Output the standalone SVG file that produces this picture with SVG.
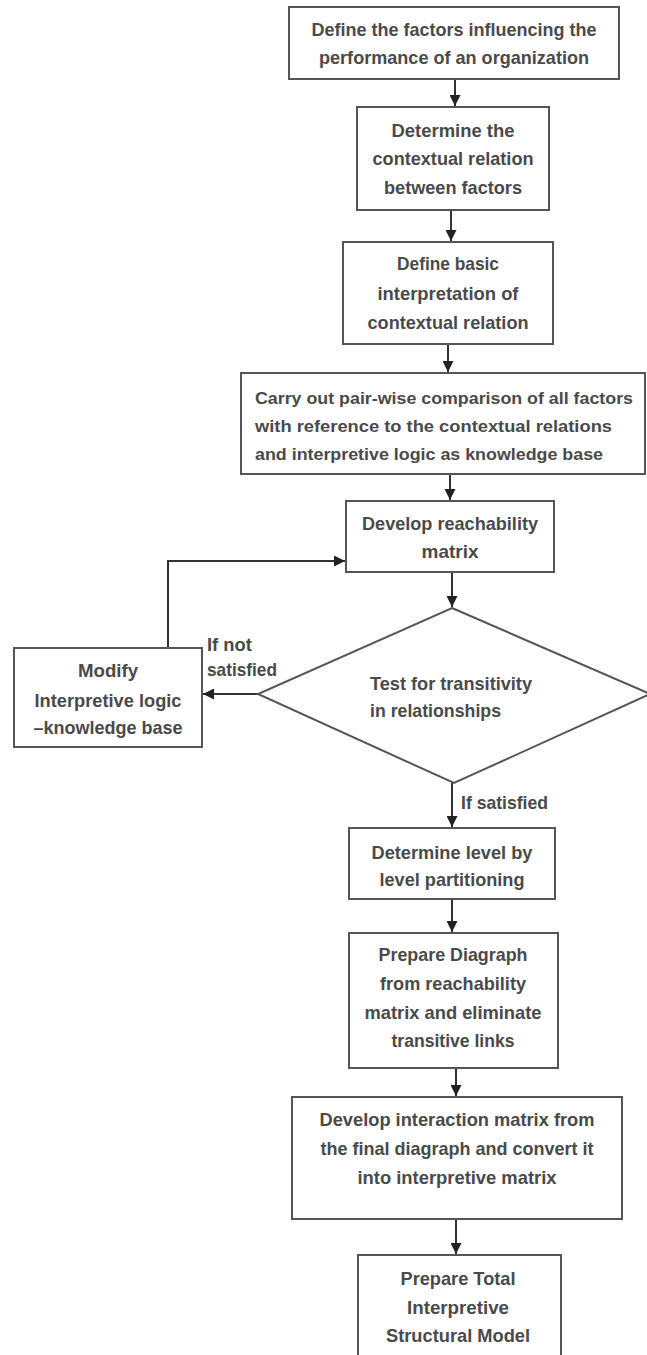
<svg xmlns="http://www.w3.org/2000/svg" width="647" height="1355" viewBox="0 0 647 1355">
<style>
.box{fill:#fff;stroke:#555;stroke-width:2}
.t{font-family:"Liberation Sans",Arial,sans-serif;font-weight:bold;font-size:19px;fill:#4a4a4a;text-anchor:middle}
.s{text-anchor:start}
.w{font-size:17px}
.c{fill:none;stroke:#333;stroke-width:2}
</style>
<defs>
<marker id="ah" viewBox="0 0 10 10" refX="10" refY="5" markerWidth="5.5" markerHeight="5.5" orient="auto" markerUnits="strokeWidth">
<path d="M0,0 L10,5 L0,10 z" fill="#222"/>
</marker>
</defs>
<rect width="647" height="1355" fill="#fff"/>
<g id="connectors">
<line class="c" x1="455" y1="79" x2="455" y2="106" marker-end="url(#ah)"/>
<line class="c" x1="451" y1="210" x2="451" y2="241" marker-end="url(#ah)"/>
<line class="c" x1="448" y1="344" x2="448" y2="372" marker-end="url(#ah)"/>
<line class="c" x1="450" y1="474" x2="450" y2="500" marker-end="url(#ah)"/>
<line class="c" x1="452" y1="572" x2="452" y2="607" marker-end="url(#ah)"/>
<line class="c" x1="258" y1="694" x2="203" y2="694" marker-end="url(#ah)"/>
<polyline class="c" points="168,648 168,561 345,561" marker-end="url(#ah)"/>
<line class="c" x1="452" y1="783" x2="452" y2="827" marker-end="url(#ah)"/>
<line class="c" x1="452" y1="899" x2="452" y2="932" marker-end="url(#ah)"/>
<line class="c" x1="456" y1="1068" x2="456" y2="1096" marker-end="url(#ah)"/>
<line class="c" x1="456" y1="1219" x2="456" y2="1254" marker-end="url(#ah)"/>
<text class="t s" x="207" y="651" textLength="45" lengthAdjust="spacingAndGlyphs">If not</text>
<text class="t s" x="207" y="676" textLength="70" lengthAdjust="spacingAndGlyphs">satisfied</text>
<text class="t s" x="461" y="809" textLength="87" lengthAdjust="spacingAndGlyphs">If satisfied</text>
</g>
<g id="n1">
<rect class="box" x="289" y="7" width="330" height="72"/>
<text class="t" x="454" y="36" textLength="285" lengthAdjust="spacingAndGlyphs">Define the factors influencing the</text>
<text class="t" x="454" y="64" textLength="270" lengthAdjust="spacingAndGlyphs">performance of an organization</text>
</g>
<g id="n2">
<rect class="box" x="357" y="107" width="192" height="103"/>
<text class="t" x="453" y="137" textLength="123" lengthAdjust="spacingAndGlyphs">Determine the</text>
<text class="t" x="453" y="165" textLength="161" lengthAdjust="spacingAndGlyphs">contextual relation</text>
<text class="t" x="453" y="194" textLength="138" lengthAdjust="spacingAndGlyphs">between factors</text>
</g>
<g id="n3">
<rect class="box" x="343" y="242" width="210" height="102"/>
<text class="t" x="448" y="270" textLength="102" lengthAdjust="spacingAndGlyphs">Define basic</text>
<text class="t" x="448" y="300" textLength="141" lengthAdjust="spacingAndGlyphs">interpretation of</text>
<text class="t" x="448" y="329" textLength="161" lengthAdjust="spacingAndGlyphs">contextual relation</text>
</g>
<g id="n4">
<rect class="box" x="241" y="373" width="404" height="101"/>
<text class="t s w" x="255" y="404" textLength="378" lengthAdjust="spacingAndGlyphs">Carry out pair-wise comparison of all factors</text>
<text class="t s w" x="255" y="432" textLength="357" lengthAdjust="spacingAndGlyphs">with reference to the contextual relations</text>
<text class="t s w" x="255" y="460" textLength="348" lengthAdjust="spacingAndGlyphs">and interpretive logic as knowledge base</text>
</g>
<g id="n5">
<rect class="box" x="346" y="501" width="208" height="71"/>
<text class="t" x="450" y="530" textLength="176" lengthAdjust="spacingAndGlyphs">Develop reachability</text>
<text class="t" x="450" y="558" textLength="57" lengthAdjust="spacingAndGlyphs">matrix</text>
</g>
<g id="n6">
<polygon class="box" points="452,608 650,694 454,783 258,694"/>
<text class="t s" x="370" y="690" textLength="162" lengthAdjust="spacingAndGlyphs">Test for transitivity</text>
<text class="t s" x="370" y="717" textLength="131" lengthAdjust="spacingAndGlyphs">in relationships</text>
</g>
<g id="n7">
<rect class="box" x="14" y="648" width="188" height="99"/>
<text class="t" x="108" y="677" textLength="60" lengthAdjust="spacingAndGlyphs">Modify</text>
<text class="t" x="108" y="707" textLength="147" lengthAdjust="spacingAndGlyphs">Interpretive logic</text>
<text class="t" x="108" y="734" textLength="149" lengthAdjust="spacingAndGlyphs">–knowledge base</text>
</g>
<g id="n8">
<rect class="box" x="349" y="828" width="206" height="71"/>
<text class="t" x="452" y="859" textLength="161" lengthAdjust="spacingAndGlyphs">Determine level by</text>
<text class="t" x="452" y="886" textLength="145" lengthAdjust="spacingAndGlyphs">level partitioning</text>
</g>
<g id="n9">
<rect class="box" x="349" y="933" width="209" height="135"/>
<text class="t" x="453" y="961" textLength="149" lengthAdjust="spacingAndGlyphs">Prepare Diagraph</text>
<text class="t" x="453" y="990" textLength="146" lengthAdjust="spacingAndGlyphs">from reachability</text>
<text class="t" x="453" y="1019" textLength="177" lengthAdjust="spacingAndGlyphs">matrix and eliminate</text>
<text class="t" x="453" y="1047" textLength="123" lengthAdjust="spacingAndGlyphs">transitive links</text>
</g>
<g id="n10">
<rect class="box" x="292" y="1097" width="330" height="122"/>
<text class="t" x="457" y="1126" textLength="275" lengthAdjust="spacingAndGlyphs">Develop interaction matrix from</text>
<text class="t" x="457" y="1155" textLength="273" lengthAdjust="spacingAndGlyphs">the final diagraph and convert it</text>
<text class="t" x="457" y="1184" textLength="199" lengthAdjust="spacingAndGlyphs">into interpretive matrix</text>
</g>
<g id="n11">
<rect class="box" x="358" y="1255" width="203" height="110"/>
<text class="t" x="458" y="1285" textLength="115" lengthAdjust="spacingAndGlyphs">Prepare Total</text>
<text class="t" x="458" y="1314" textLength="102" lengthAdjust="spacingAndGlyphs">Interpretive</text>
<text class="t" x="458" y="1342" textLength="144" lengthAdjust="spacingAndGlyphs">Structural Model</text>
</g>
</svg>
